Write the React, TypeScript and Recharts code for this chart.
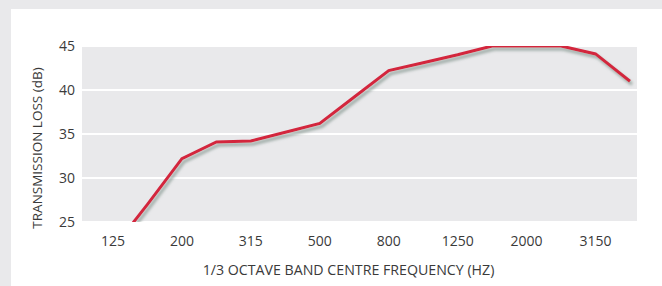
import { LineChart, Line, XAxis, YAxis, CartesianGrid } from "recharts";

// 1/3 octave band centres (Hz)
const BANDS = [
  "125", "160", "200", "250", "315", "400", "500", "630",
  "800", "1000", "1250", "1600", "2000", "2500", "3150", "4000",
];
// transmission loss (dB) per band
const LOSS = [22, 27, 32.2, 34.1, 34.2, 35.2, 36.2, 39.2, 42.2, 43.1, 44, 45, 45, 45, 44.1, 41];
const Y_TICKS = [25, 30, 35, 40, 45];

const data = BANDS.map((band, i) => ({ band, loss: LOSS[i] }));

const FONT = "'Open Sans', sans-serif";
const TEXT = "#3a3a3a";

export default function App() {
  return (
    <div
      style={{
        position: "absolute",
        left: 0,
        top: 0,
        width: 662,
        height: 286,
        background: "#e9e9eb",
        fontFamily: FONT,
      }}
    >
      <div
        style={{
          position: "absolute",
          left: 11,
          top: 9,
          width: 651,
          height: 277,
          background: "#ffffff",
        }}
      >
        <LineChart
          width={651}
          height={277}
          data={data}
          margin={{ top: 37, right: 25, bottom: 0, left: 11 }}
        >
          <defs>
            <filter id="lineShadow" x="-10%" y="-10%" width="120%" height="130%">
              <feDropShadow dx="2" dy="3" stdDeviation="1.5" floodColor="#7f9189" floodOpacity="0.75" />
            </filter>
          </defs>
          <CartesianGrid
            fill="#e9e9eb"
            stroke="#ffffff"
            strokeWidth={2}
            vertical={false}
          />
          <XAxis
            dataKey="band"
            interval={1}
            height={64}
            axisLine={false}
            tickLine={false}
            tickSize={0}
            tickMargin={14}
            padding={{ left: 31, right: 7 }}
            tick={{ fontSize: 14, fill: TEXT, fontFamily: FONT }}
            label={{
              value: "1/3 OCTAVE BAND CENTRE FREQUENCY (HZ)",
              position: "center",
              dx: -11,
              dy: 16,
              fontSize: 14.2,
              fill: TEXT,
              fontFamily: FONT,
            }}
          />
          <YAxis
            domain={[25, 45]}
            ticks={Y_TICKS}
            allowDataOverflow
            width={60}
            axisLine={false}
            tickLine={false}
            tickSize={0}
            tickMargin={7}
            tick={{ fontSize: 14, fill: TEXT, fontFamily: FONT }}
            label={{
              value: "TRANSMISSION  LOSS (dB)",
              angle: -90,
              position: "center",
              dx: -15,
              dy: 14,
              fontSize: 13.5,
              fill: TEXT,
              fontFamily: FONT,
            }}
          />
          <Line
            type="linear"
            dataKey="loss"
            stroke="#d3253d"
            strokeWidth={3}
            dot={false}
            activeDot={false}
            filter="url(#lineShadow)"
            isAnimationActive={false}
          />
        </LineChart>
      </div>
    </div>
  );
}
